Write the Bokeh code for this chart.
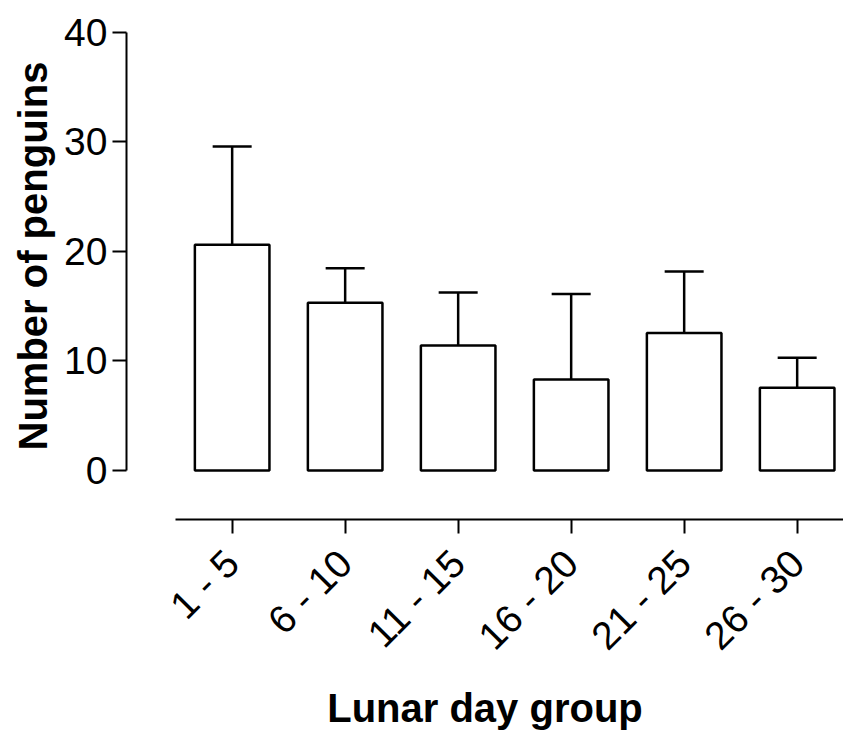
import math
from bokeh.plotting import figure
from bokeh.models import ColumnDataSource, FixedTicker, Whisker, TeeHead, Range1d, Title
from bokeh.embed import file_html
from bokeh.resources import INLINE

groups = ["1 - 5", "6 - 10", "11 - 15", "16 - 20", "21 - 25", "26 - 30"]
means = [20.6, 15.3, 11.4, 8.3, 12.55, 7.55]
errors = [8.96, 3.15, 4.85, 7.8, 5.6, 2.75]
y_ticks = [0, 10, 20, 30, 40]

xs = list(range(len(groups)))
upper = [m + e for m, e in zip(means, errors)]
src = ColumnDataSource(dict(x=xs, mean=means, upper=upper))

p = figure(frame_width=717, frame_height=495,
           min_border_left=126, min_border_top=24, min_border_bottom=203, min_border_right=0,
           x_range=Range1d(-0.935, 5.41), y_range=Range1d(-4.47, 40.70),
           output_backend="svg", toolbar_location=None)
p.outline_line_color = None
p.xgrid.visible = False
p.ygrid.visible = False
p.background_fill_color = "white"
p.border_fill_color = "white"

p.vbar(x="x", top="mean", bottom=0, width=0.66, source=src,
       fill_color="white", line_color="black", line_width=2.5)

w = Whisker(base="x", lower="mean", upper="upper", source=src,
            line_color="black", line_width=2.5,
            upper_head=TeeHead(size=39, line_color="black", line_width=2.5),
            lower_head=None)
p.add_layout(w)

font = "Liberation Sans"
for ax in (p.yaxis[0], p.xaxis[0]):
    ax.minor_tick_line_color = None
    ax.major_tick_out = 14
    ax.major_tick_in = 0
    ax.major_tick_line_width = 2
    ax.major_tick_line_color = "black"
    ax.axis_line_width = 2
    ax.axis_line_color = "black"
    ax.major_label_text_font = font
    ax.major_label_text_font_size = "39px"
    ax.major_label_text_color = "black"
    ax.axis_label_text_font = font
    ax.axis_label_text_font_size = "40px"
    ax.axis_label_text_font_style = "bold"
    ax.axis_label_text_color = "black"

ya = p.yaxis[0]
ya.ticker = FixedTicker(ticks=y_ticks)
ya.bounds = (0, 40)
ya.major_label_standoff = 5

ytitle = Title(text="Number of penguins", align="left", offset=69,
               text_font=font, text_font_size="40px", text_font_style="bold",
               text_color="black", standoff=13)
p.add_layout(ytitle, "left")

xa = p.xaxis[0]
xa.ticker = FixedTicker(ticks=xs)
xa.major_label_overrides = {i: g for i, g in enumerate(groups)}
xa.bounds = (-0.5, 10)
xa.major_label_orientation = math.pi / 4
xa.major_label_standoff = 23
xa.axis_label = "Lunar day group"
xa.axis_label_standoff = 10

open("out.html", "w").write(file_html(p, INLINE))
